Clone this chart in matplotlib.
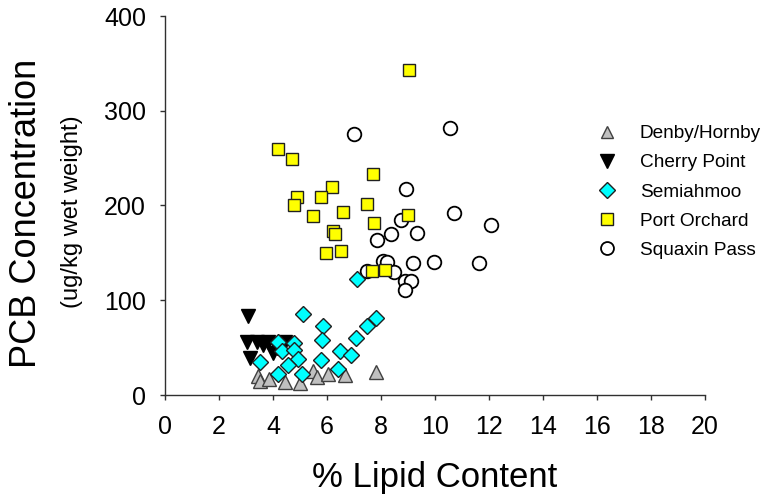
import numpy as np
import matplotlib.pyplot as plt

plt.rcParams['font.family'] = ['Liberation Sans', 'DejaVu Sans']

# ----------------------------------------------------------------
# data (x = % lipid, y = PCB ug/kg wet weight)

denby_x = [3.46, 3.52, 3.86, 4.44, 5.0, 5.47, 5.62, 6.05, 6.67, 7.81]
denby_y = [20, 15, 16.5, 14, 13, 25.7, 18.7, 22, 21, 24.6]

cherry_x = [3.09, 3.02, 3.42, 3.83, 4.44, 3.15, 4.01, 3.64, 4.15]
cherry_y = [83, 56, 56, 56, 56, 38.7, 44, 53, 50]

semi_x = [5.1, 5.86, 5.83, 4.2, 4.78, 4.32, 4.78, 4.91, 3.52, 4.57,
          5.79, 6.48, 6.89, 7.07, 7.47, 7.8, 6.42, 4.2, 5.09, 7.11]
semi_y = [85.5, 73, 58, 55.6, 55, 46.8, 47.5, 37.6, 34.5, 31.7,
          37, 46.8, 42, 60.5, 73, 81, 27.4, 22, 22, 122]

port_x = [9.05, 4.2, 4.69, 7.69, 6.2, 4.9, 4.79, 5.79, 7.49, 5.49,
          6.6, 8.99, 7.73, 6.21, 6.31, 5.95, 6.53, 7.68, 8.15]
port_y = [343, 259.6, 249, 233, 220, 209, 200, 209, 201.6, 189,
          193.5, 189.7, 181.5, 173, 169.6, 149.5, 151.7, 131, 132]

squax_x = [7.01, 10.56, 10.69, 12.06, 8.91, 8.73, 8.38, 7.84, 9.35, 8.09,
           8.21, 9.19, 9.97, 11.64, 7.47, 8.49, 8.89, 9.1, 8.89]
squax_y = [275.5, 281.5, 192.4, 179.7, 217.4, 184.7, 170, 164, 170.7, 141.4,
           140.4, 139.6, 140, 139.6, 131, 130, 120.6, 120.6, 110.8]

x_ticks = [0, 2, 4, 6, 8, 10, 12, 14, 16, 18, 20]
y_ticks = [0, 100, 200, 300, 400]

# ----------------------------------------------------------------

fig = plt.figure(figsize=(7.64, 4.98), dpi=100)
ax = fig.add_axes([165/764, 1-395/498, 540/764, 379/498])

edge = '#202020'
h_den, = ax.plot(denby_x, denby_y, '^', ms=9.4, mfc='#c0c0c0', mec='#404040', mew=1.0, zorder=4, label='Denby/Hornby')
h_che, = ax.plot(cherry_x, cherry_y, 'v', ms=10, mfc='black', mec='black', mew=1.0, zorder=3, label='Cherry Point')
h_sem, = ax.plot(semi_x, semi_y, 'D', ms=8.4, mfc='#00ffff', mec=edge, mew=1.0, zorder=5, label='Semiahmoo')
h_por, = ax.plot(port_x, port_y, 's', ms=8.6, mfc='#ffff00', mec=edge, mew=1.0, zorder=2, label='Port Orchard')
h_squ, = ax.plot(squax_x, squax_y, 'o', ms=9.8, mfc='white', mec='black', mew=1.3, zorder=1, label='Squaxin Pass')

ax.set_xlim(0, 20)
ax.set_ylim(0, 400)
ax.set_xticks(x_ticks)
ax.set_yticks(y_ticks)
ax.spines['top'].set_visible(False)
ax.spines['right'].set_visible(False)
for s in ['left', 'bottom']:
    ax.spines[s].set_color('#303030')
    ax.spines[s].set_linewidth(1.0)
ax.tick_params(axis='both', direction='out', length=3.6, width=1.0, color='#303030', labelsize=18)
ax.tick_params(axis='x', pad=11)
ax.tick_params(axis='y', pad=10)

fig.text(435/764, 1-478/498, '% Lipid Content', fontsize=25, ha='center', va='center')
fig.text(27/764, 1-213/498, 'PCB Concentration', fontsize=26, rotation=90, ha='center', va='center')
fig.text(72/764, 1-212/498, '(ug/kg wet weight)', fontsize=17, rotation=90, ha='center', va='center')

leg = ax.legend(handles=[h_den, h_che, h_sem, h_por, h_squ], loc='upper left',
                bbox_to_anchor=(597/764, 1-125/498), bbox_transform=fig.transFigure,
                frameon=False, fontsize=13.7, numpoints=1, handlelength=1.0,
                handletextpad=1.25, labelspacing=0.62, borderpad=0, borderaxespad=0,
                markerscale=0.95)

fig.savefig('out.png', dpi=100)
